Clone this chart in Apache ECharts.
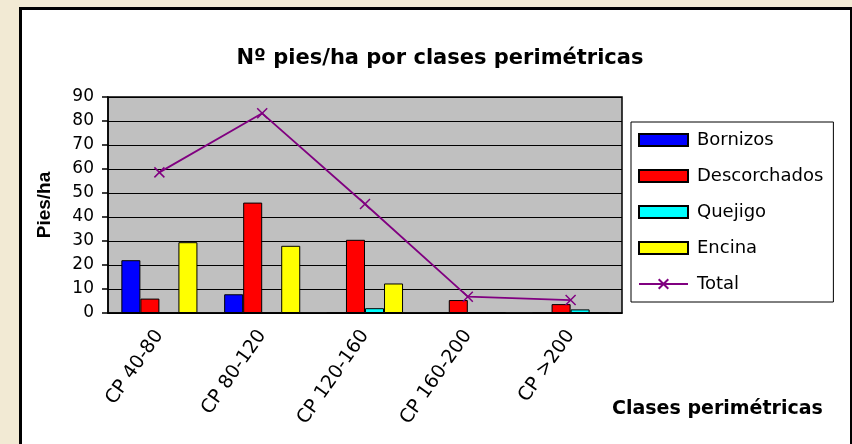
<!DOCTYPE html>
<html>
<head>
<meta charset="utf-8">
<script src="https://cdn.jsdelivr.net/npm/echarts@6/dist/echarts.min.js"></script>
<style>
    html, body { margin: 0; padding: 0; background: #f2ead4; overflow: hidden; }
    #frame { position: absolute; left: 19px; top: 7px; width: 828px; height: 460px; background: #fff; border: 3px solid #000; }
    #chart { position: absolute; left: 0; top: 0; width: 852px; height: 444px; }
</style>
</head>
<body>
<div id="frame"></div>
<div id="chart"></div>
<script>
// clases perimétricas
const categories = ['CP 40-80', 'CP 80-120', 'CP 120-160', 'CP 160-200', 'CP >200']
const bornizos = [22, 7.8, 0, 0, 0]
const descorchados = [6, 46, 30.5, 5.4, 3.7]
const quejigo = [0, 0, 2, 0.4, 1.5]
const encina = [29.5, 28, 12.3, 0.4, 0]
const total = [58.6, 83.2, 45.4, 6.8, 5.4]

const font = 'DejaVu Sans'

function barSeries(name, color, data) {
    return {
        name: name,
        type: 'bar',
        barGap: '0%',
        barCategoryGap: '26%',
        itemStyle: {color: color, borderColor: '#000', borderWidth: 1},
        data: data
    }
}

const dom = echarts.init(document.getElementById('chart'))
const options = {
    animation: false,
    title: [
        {
            text: 'Nº pies/ha por clases perimétricas',
            left: 440,
            top: 48,
            textAlign: 'center',
            padding: 0,
            textStyle: {fontFamily: font, fontSize: 21, fontWeight: 'bold', color: '#000'}
        },
        {
            text: 'Clases perimétricas',
            left: 612,
            top: 400,
            padding: 0,
            textStyle: {fontFamily: font, fontSize: 19, fontWeight: 'bold', color: '#000'}
        }
    ],
    legend: {
        orient: 'vertical',
        left: 631,
        top: 122,
        padding: [9, 10, 9, 7],
        itemWidth: 49,
        itemHeight: 12,
        itemGap: 18,
        borderColor: '#000',
        borderWidth: 1,
        textStyle: {fontFamily: font, fontSize: 18, color: '#000', padding: [0, 0, 0, 4]},
        data: [
            {name: 'Bornizos', icon: 'rect'},
            {name: 'Descorchados', icon: 'rect'},
            {name: 'Quejigo', icon: 'rect'},
            {name: 'Encina', icon: 'rect'},
            {name: 'Total'}
        ]
    },
    grid: {
        left: 108,
        right: 230,
        top: 97,
        bottom: 131,
        show: true,
        backgroundColor: '#c0c0c0',
        borderColor: '#000',
        borderWidth: 1.5
    },
    xAxis: {
        type: 'category',
        data: categories,
        axisLine: {lineStyle: {color: '#000', width: 1.5}},
        axisTick: {alignWithLabel: false, length: 6, lineStyle: {color: '#000', width: 1.5}},
        axisLabel: {
            rotate: 55,
            margin: 19,
            color: '#000',
            fontFamily: font,
            fontSize: 19
        }
    },
    yAxis: {
        type: 'value',
        min: 0,
        max: 90,
        interval: 10,
        name: 'Pies/ha',
        nameLocation: 'middle',
        nameRotate: 90,
        nameGap: 54,
        nameTextStyle: {fontFamily: 'Liberation Sans', fontSize: 19, fontWeight: 'bold', color: '#000'},
        axisLine: {show: true, lineStyle: {color: '#000', width: 1.5}},
        axisTick: {show: true, length: 6, lineStyle: {color: '#000', width: 1.5}},
        axisLabel: {margin: 14, color: '#000', fontFamily: font, fontSize: 17},
        splitLine: {lineStyle: {color: '#000', width: 1.2}}
    },
    series: [
        barSeries('Bornizos', '#0000ff', bornizos),
        barSeries('Descorchados', '#ff0000', descorchados),
        barSeries('Quejigo', '#00ffff', quejigo),
        barSeries('Encina', '#ffff00', encina),
        {
            name: 'Total',
            type: 'line',
            symbol: 'path://M0,0L10,10M10,0L0,10',
            symbolSize: 10,
            itemStyle: {color: '#800080', borderColor: '#800080', borderWidth: 1.5},
            lineStyle: {color: '#800080', width: 1.8},
            data: total
        }
    ]
}
dom.setOption(options)
</script>
</body>
</html>
